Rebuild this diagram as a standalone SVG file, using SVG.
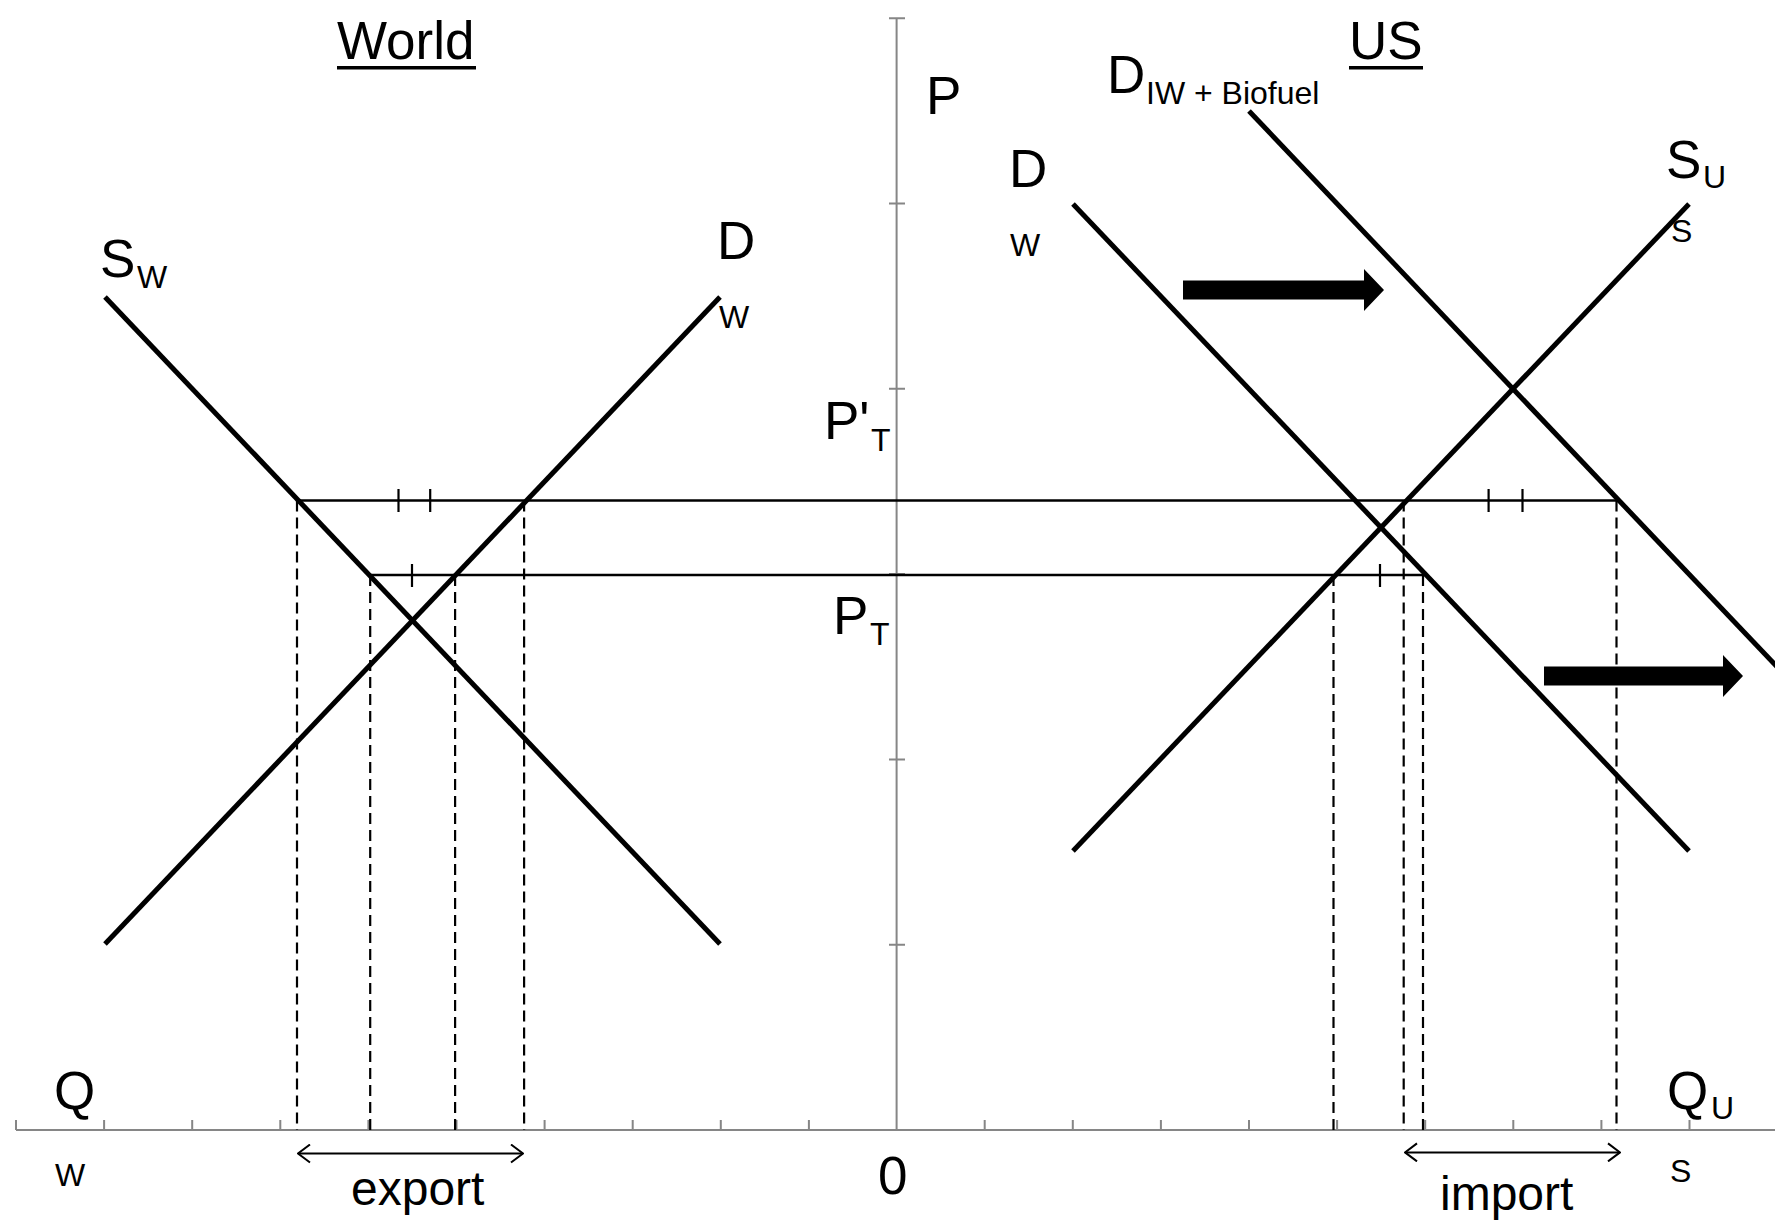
<svg xmlns="http://www.w3.org/2000/svg" width="1775" height="1225" viewBox="0 0 1775 1225">
<defs>
<style>
.axis{stroke:#868686;stroke-width:2;fill:none}
.curve{stroke:#000;stroke-width:5;fill:none}
.hline{stroke:#000;stroke-width:2.4;fill:none}
.tick{stroke:#000;stroke-width:2.2;fill:none}
.dash{stroke:#000;stroke-width:2.2;fill:none;stroke-dasharray:11 6}
.lbl{font-family:"Liberation Sans",Arial,sans-serif;font-size:53px;fill:#000}
.sub{font-size:32px}
.dbl{stroke:#000;stroke-width:2;fill:none;marker-start:url(#open);marker-end:url(#open)}
</style>
<marker id="open" viewBox="0 0 14 20" refX="13" refY="10" markerWidth="14" markerHeight="20" markerUnits="userSpaceOnUse" orient="auto-start-reverse">
<path d="M1,1 L13,10 L1,19" fill="none" stroke="#000" stroke-width="2"/>
</marker>
</defs>
<rect width="1775" height="1225" fill="#fff"/>

<g id="axes">
<path class="axis" d="M16,1130 H1775 M896.6,18 V1130"/>
<path class="axis" d="M889,18.2 H905 M889,203.5 H905 M889,388.8 H905 M889,574.1 H905 M889,759.4 H905 M889,944.7 H905"/>
<path class="axis" d="M16,1130 v-10 M104.1,1130 v-10 M192.2,1130 v-10 M280.3,1130 v-10 M368.4,1130 v-10 M456.5,1130 v-10 M544.6,1130 v-10 M632.7,1130 v-10 M720.8,1130 v-10 M808.9,1130 v-10 M984.7,1130 v-10 M1072.8,1130 v-10 M1160.9,1130 v-10 M1249,1130 v-10 M1337.1,1130 v-10 M1425.2,1130 v-10 M1513.3,1130 v-10 M1601.4,1130 v-10 M1689.5,1130 v-10"/>
</g>

<g id="connectors">
<path class="hline" d="M297,500.5 H1618"/>
<path class="hline" d="M370,575 H1424"/>
<path class="tick" d="M398.5,489 V512 M430.2,489 V512 M1488.6,489 V512 M1522.5,489 V512 M412,564 V587 M1380,564 V587"/>
<path class="dash" d="M297,500.5 V1130 M370.2,575 V1130 M455.1,575 V1130 M524.1,500.5 V1130"/>
<path class="dash" d="M1333.5,575 V1130 M1403.7,500.5 V1130 M1423,575 V1130 M1616.5,500.5 V1130"/>
<path class="dbl" d="M298,1153.5 H523"/>
<path class="dbl" d="M1405,1152.4 H1620"/>
</g>

<g id="world-supply"><path class="curve" d="M105,297 L720,944"/></g>
<g id="world-demand"><path class="curve" d="M105,944 L720,297"/></g>
<g id="us-demand"><path class="curve" d="M1073,204 L1689,851"/></g>
<g id="us-supply"><path class="curve" d="M1073,851 L1689,204"/></g>
<g id="us-demand-biofuel"><path class="curve" d="M1249,111 L1780,670"/></g>

<g id="shift-arrow-1"><path d="M1183,280.5 H1364 V269 L1384,290 L1364,311 V299.5 H1183 Z" fill="#000"/></g>
<g id="shift-arrow-2"><path d="M1544,666.5 H1723 V655 L1743,676 L1723,697 V685.5 H1544 Z" fill="#000"/></g>

<g id="labels">
<text class="lbl" x="337" y="59">World</text>
<rect x="337" y="66" width="139" height="3.5" fill="#000"/>
<text class="lbl" x="1349" y="59">US</text>
<rect x="1349" y="66" width="74" height="3.5" fill="#000"/>
<text class="lbl" x="926" y="114">P</text>
<text class="lbl" x="1107" y="93">D<tspan class="sub" x="1146" y="104">IW + Biofuel</tspan></text>
<text class="lbl" x="1009" y="187">D</text>
<text class="lbl sub" x="1010" y="256">W</text>
<text class="lbl" x="1666" y="178">S<tspan class="sub" x="1703" y="188">U</tspan></text>
<text class="lbl sub" x="1671" y="242">S</text>
<text class="lbl" x="100" y="277">S<tspan class="sub" x="137" y="288">W</tspan></text>
<text class="lbl" x="717" y="259">D</text>
<text class="lbl sub" x="719" y="328">W</text>
<text class="lbl" x="824" y="439">P'<tspan class="sub" x="871" y="451">T</tspan></text>
<text class="lbl" x="833" y="634">P<tspan class="sub" x="870" y="645">T</tspan></text>
<text class="lbl" x="54" y="1109">Q</text>
<text class="lbl sub" x="55" y="1186">W</text>
<text class="lbl" x="878" y="1194">0</text>
<text class="lbl" x="351" y="1205" style="font-size:48px">export</text>
<text class="lbl" x="1440" y="1210" style="font-size:48px">import</text>
<text class="lbl" x="1667" y="1109">Q<tspan class="sub" x="1711" y="1119">U</tspan></text>
<text class="lbl sub" x="1670" y="1182">S</text>
</g>
</svg>
